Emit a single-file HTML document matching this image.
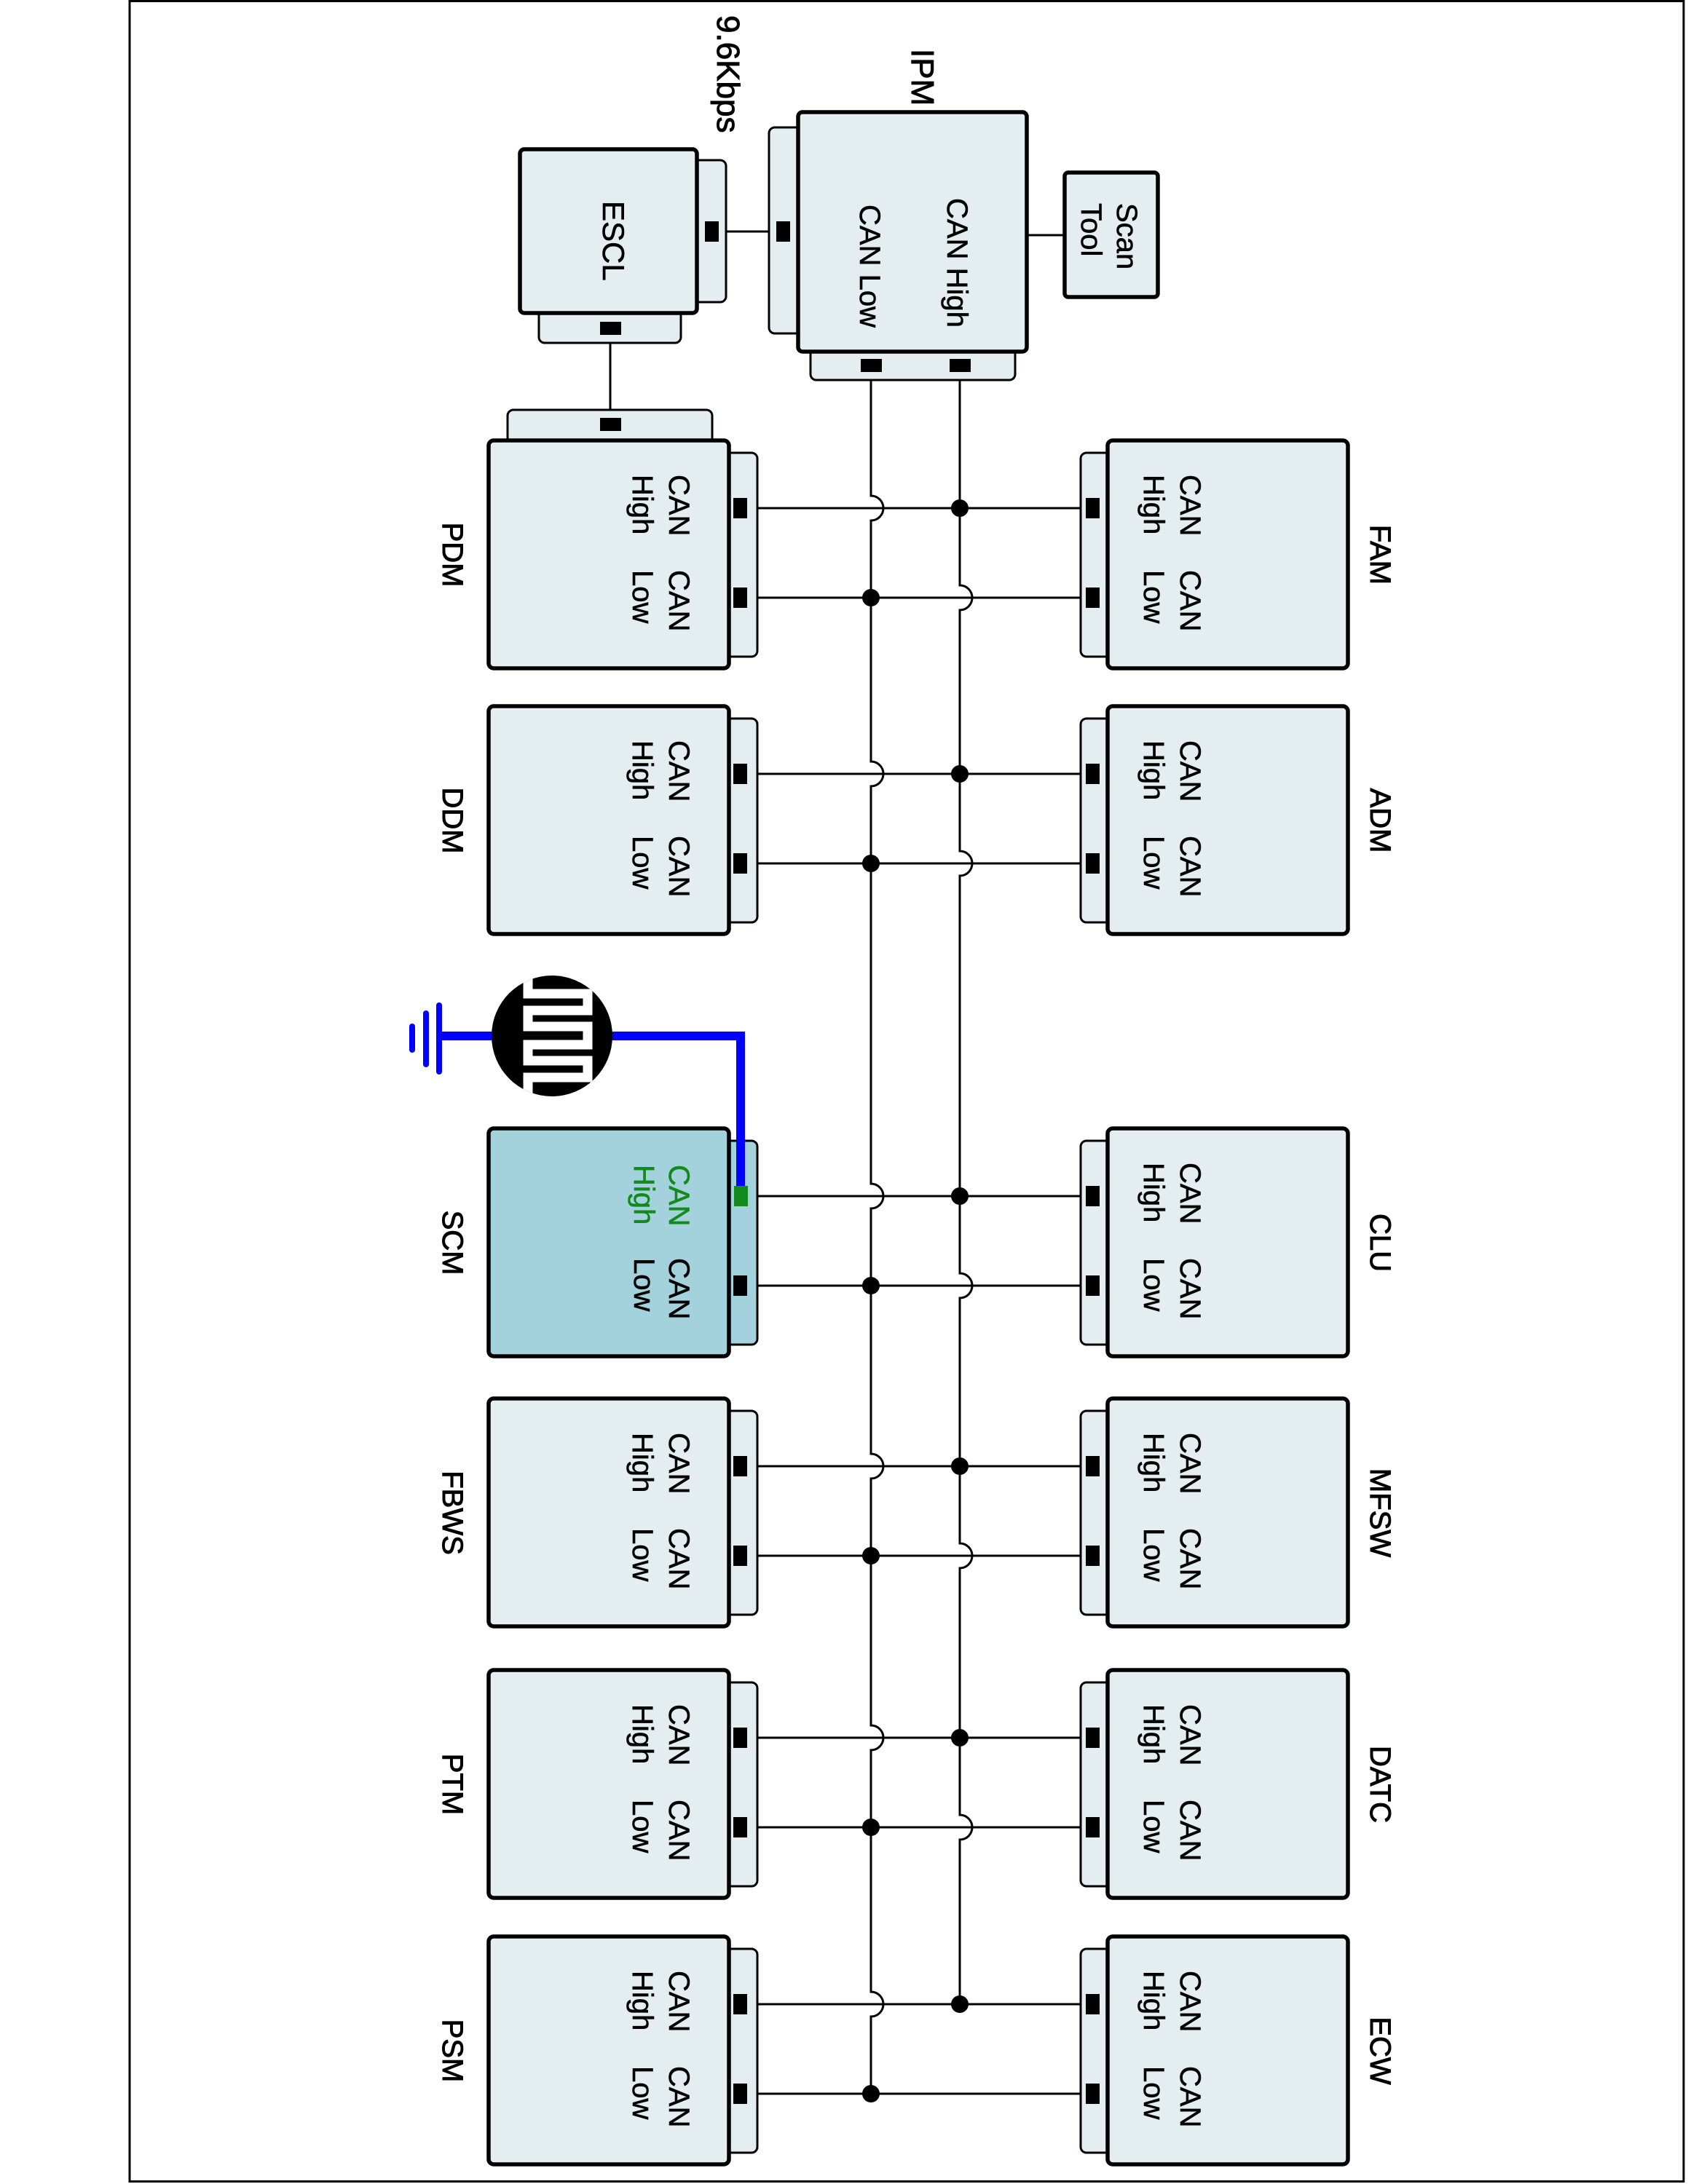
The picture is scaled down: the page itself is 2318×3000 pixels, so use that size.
<!DOCTYPE html>
<html><head><meta charset="utf-8"><style>
html,body{margin:0;padding:0;background:#fff}
svg{display:block}
text{font-family:"Liberation Sans",Arial,sans-serif;font-size:40px;fill:#000;stroke:#000;stroke-width:0.6}
.b{stroke-width:1}
.box{fill:#e4eef0;stroke:#000;stroke-width:5.5}
.tab{fill:#e4eef0;stroke:#000;stroke-width:3}
.scm .box,.scm .tab{fill:#a4d2dc}
.w{stroke:#000;stroke-width:3;fill:none}
.g{fill:#138a1e;stroke:#138a1e}
</style></head><body>
<svg width="2318" height="3000" viewBox="0 0 2318 3000" xmlns="http://www.w3.org/2000/svg">
<rect x="178" y="1.5" width="2134" height="2995" fill="none" stroke="#000" stroke-width="3"/>

<path class="w" d="M1196 510 V681 A17 17 0 0 1 1196 715 V1046 A17 17 0 0 1 1196 1080 V1626 A17 17 0 0 1 1196 1660 V1997 A17 17 0 0 1 1196 2031 V2370 A17 17 0 0 1 1196 2404 V2736 A17 17 0 0 1 1196 2770 V2876"/>
<path class="w" d="M1318 510 V804 A17 17 0 0 1 1318 838 V1169 A17 17 0 0 1 1318 1203 V1749 A17 17 0 0 1 1318 1783 V2120 A17 17 0 0 1 1318 2154 V2493 A17 17 0 0 1 1318 2527 V2753"/>
<g class="w">
<line x1="1025" y1="698" x2="1492" y2="698"/><line x1="1025" y1="821" x2="1492" y2="821"/>
<line x1="1025" y1="1063" x2="1492" y2="1063"/><line x1="1025" y1="1186" x2="1492" y2="1186"/>
<line x1="1025" y1="1643" x2="1492" y2="1643"/><line x1="1025" y1="1766" x2="1492" y2="1766"/>
<line x1="1025" y1="2014" x2="1492" y2="2014"/><line x1="1025" y1="2137" x2="1492" y2="2137"/>
<line x1="1025" y1="2387" x2="1492" y2="2387"/><line x1="1025" y1="2510" x2="1492" y2="2510"/>
<line x1="1025" y1="2753" x2="1492" y2="2753"/><line x1="1025" y1="2876" x2="1492" y2="2876"/>
<line x1="977" y1="318" x2="1075" y2="318"/>
<line x1="838" y1="451" x2="838" y2="583"/>
<line x1="1410" y1="323" x2="1462" y2="323"/>
</g>
<g fill="#000">
<circle cx="1318" cy="698" r="12"/><circle cx="1318" cy="1063" r="12"/><circle cx="1318" cy="1643" r="12"/><circle cx="1318" cy="2014" r="12"/><circle cx="1318" cy="2387" r="12"/><circle cx="1318" cy="2753" r="12"/>
<circle cx="1196" cy="821" r="12"/><circle cx="1196" cy="1186" r="12"/><circle cx="1196" cy="1766" r="12"/><circle cx="1196" cy="2137" r="12"/><circle cx="1196" cy="2510" r="12"/><circle cx="1196" cy="2876" r="12"/>
</g>

<rect class="tab" x="940" y="220" width="57" height="195" rx="8"/>
<rect class="tab" x="740" y="410" width="195" height="61" rx="8"/>
<rect class="box" x="714" y="205" width="243" height="225" rx="6"/>
<rect x="968" y="304" width="19" height="28"/>
<rect x="824" y="442" width="29" height="18"/>
<text transform="translate(828,276) rotate(90)" style="font-size:42px">ESCL</text>
<text class="b" transform="translate(985,21) rotate(90)" style="font-size:44px">9.6Kbps</text>

<rect class="tab" x="1056" y="175" width="60" height="283" rx="8"/>
<rect class="tab" x="1113" y="460" width="281" height="62" rx="8"/>
<rect class="box" x="1096" y="154" width="314" height="329" rx="6"/>
<rect x="1066" y="304" width="19" height="28"/>
<rect x="1182" y="493" width="29" height="18"/>
<rect x="1304" y="493" width="29" height="18"/>
<text transform="translate(1301,272) rotate(90)">CAN High</text>
<text transform="translate(1181,281) rotate(90)">CAN Low</text>
<text class="b" transform="translate(1252,67) rotate(90)" style="font-size:44px">IPM</text>

<rect class="box" x="1462" y="237" width="128" height="171" rx="5"/>
<text transform="translate(1534,279) rotate(90)">Scan</text>
<text transform="translate(1485,279) rotate(90)">Tool</text>

<rect class="tab" x="697" y="563" width="281" height="60" rx="8"/>
<rect x="824" y="574" width="29" height="18"/>

<g transform="translate(671,605)">
<rect class="tab" x="310" y="17" width="59" height="280" rx="8"/><rect class="box" x="0" y="0" width="330" height="313" rx="7"/>
<rect x="336" y="79" width="19" height="28"/><rect x="336" y="202" width="19" height="28"/>
<text transform="translate(248,47) rotate(90)">CAN</text><text transform="translate(198,47) rotate(90)">High</text>
<text transform="translate(248,178) rotate(90)">CAN</text><text transform="translate(198,178) rotate(90)">Low</text>
<text class="b" text-anchor="middle" transform="translate(-63,157) rotate(90)">PDM</text>
</g>
<g transform="translate(671,970)">
<rect class="tab" x="310" y="17" width="59" height="280" rx="8"/><rect class="box" x="0" y="0" width="330" height="313" rx="7"/>
<rect x="336" y="79" width="19" height="28"/><rect x="336" y="202" width="19" height="28"/>
<text transform="translate(248,47) rotate(90)">CAN</text><text transform="translate(198,47) rotate(90)">High</text>
<text transform="translate(248,178) rotate(90)">CAN</text><text transform="translate(198,178) rotate(90)">Low</text>
<text class="b" text-anchor="middle" transform="translate(-63,157) rotate(90)">DDM</text>
</g>
<g class="scm" transform="translate(671,1550)">
<rect class="tab" x="310" y="17" width="59" height="280" rx="8"/><rect class="box" x="0" y="0" width="330" height="313" rx="7"/>
<rect x="336" y="202" width="19" height="28"/>
<text class="g" transform="translate(248,50) rotate(90)">CAN</text><text class="g" transform="translate(200,50) rotate(90)">High</text>
<text transform="translate(248,178) rotate(90)">CAN</text><text transform="translate(200,178) rotate(90)">Low</text>
<text class="b" text-anchor="middle" transform="translate(-63,157) rotate(90)">SCM</text>
</g>
<g transform="translate(671,1921)">
<rect class="tab" x="310" y="17" width="59" height="280" rx="8"/><rect class="box" x="0" y="0" width="330" height="313" rx="7"/>
<rect x="336" y="79" width="19" height="28"/><rect x="336" y="202" width="19" height="28"/>
<text transform="translate(248,47) rotate(90)">CAN</text><text transform="translate(198,47) rotate(90)">High</text>
<text transform="translate(248,178) rotate(90)">CAN</text><text transform="translate(198,178) rotate(90)">Low</text>
<text class="b" text-anchor="middle" transform="translate(-63,157) rotate(90)">FBWS</text>
</g>
<g transform="translate(671,2294)">
<rect class="tab" x="310" y="17" width="59" height="280" rx="8"/><rect class="box" x="0" y="0" width="330" height="313" rx="7"/>
<rect x="336" y="79" width="19" height="28"/><rect x="336" y="202" width="19" height="28"/>
<text transform="translate(248,47) rotate(90)">CAN</text><text transform="translate(198,47) rotate(90)">High</text>
<text transform="translate(248,178) rotate(90)">CAN</text><text transform="translate(198,178) rotate(90)">Low</text>
<text class="b" text-anchor="middle" transform="translate(-63,157) rotate(90)">PTM</text>
</g>
<g transform="translate(671,2660)">
<rect class="tab" x="310" y="17" width="59" height="280" rx="8"/><rect class="box" x="0" y="0" width="330" height="313" rx="7"/>
<rect x="336" y="79" width="19" height="28"/><rect x="336" y="202" width="19" height="28"/>
<text transform="translate(248,47) rotate(90)">CAN</text><text transform="translate(198,47) rotate(90)">High</text>
<text transform="translate(248,178) rotate(90)">CAN</text><text transform="translate(198,178) rotate(90)">Low</text>
<text class="b" text-anchor="middle" transform="translate(-63,157) rotate(90)">PSM</text>
</g>

<g transform="translate(1521,605)">
<rect class="tab" x="-37" y="17" width="59" height="280" rx="8"/><rect class="box" x="0" y="0" width="330" height="313" rx="7"/>
<rect x="-30" y="79" width="19" height="28"/><rect x="-30" y="202" width="19" height="28"/>
<text transform="translate(100,47) rotate(90)">CAN</text><text transform="translate(50,47) rotate(90)">High</text>
<text transform="translate(100,178) rotate(90)">CAN</text><text transform="translate(50,178) rotate(90)">Low</text>
<text class="b" text-anchor="middle" transform="translate(361,157) rotate(90)">FAM</text>
</g>
<g transform="translate(1521,970)">
<rect class="tab" x="-37" y="17" width="59" height="280" rx="8"/><rect class="box" x="0" y="0" width="330" height="313" rx="7"/>
<rect x="-30" y="79" width="19" height="28"/><rect x="-30" y="202" width="19" height="28"/>
<text transform="translate(100,47) rotate(90)">CAN</text><text transform="translate(50,47) rotate(90)">High</text>
<text transform="translate(100,178) rotate(90)">CAN</text><text transform="translate(50,178) rotate(90)">Low</text>
<text class="b" text-anchor="middle" transform="translate(361,157) rotate(90)">ADM</text>
</g>
<g transform="translate(1521,1550)">
<rect class="tab" x="-37" y="17" width="59" height="280" rx="8"/><rect class="box" x="0" y="0" width="330" height="313" rx="7"/>
<rect x="-30" y="79" width="19" height="28"/><rect x="-30" y="202" width="19" height="28"/>
<text transform="translate(100,47) rotate(90)">CAN</text><text transform="translate(50,47) rotate(90)">High</text>
<text transform="translate(100,178) rotate(90)">CAN</text><text transform="translate(50,178) rotate(90)">Low</text>
<text class="b" text-anchor="middle" transform="translate(361,157) rotate(90)">CLU</text>
</g>
<g transform="translate(1521,1921)">
<rect class="tab" x="-37" y="17" width="59" height="280" rx="8"/><rect class="box" x="0" y="0" width="330" height="313" rx="7"/>
<rect x="-30" y="79" width="19" height="28"/><rect x="-30" y="202" width="19" height="28"/>
<text transform="translate(100,47) rotate(90)">CAN</text><text transform="translate(50,47) rotate(90)">High</text>
<text transform="translate(100,178) rotate(90)">CAN</text><text transform="translate(50,178) rotate(90)">Low</text>
<text class="b" text-anchor="middle" transform="translate(361,157) rotate(90)">MFSW</text>
</g>
<g transform="translate(1521,2294)">
<rect class="tab" x="-37" y="17" width="59" height="280" rx="8"/><rect class="box" x="0" y="0" width="330" height="313" rx="7"/>
<rect x="-30" y="79" width="19" height="28"/><rect x="-30" y="202" width="19" height="28"/>
<text transform="translate(100,47) rotate(90)">CAN</text><text transform="translate(50,47) rotate(90)">High</text>
<text transform="translate(100,178) rotate(90)">CAN</text><text transform="translate(50,178) rotate(90)">Low</text>
<text class="b" text-anchor="middle" transform="translate(361,157) rotate(90)">DATC</text>
</g>
<g transform="translate(1521,2660)">
<rect class="tab" x="-37" y="17" width="59" height="280" rx="8"/><rect class="box" x="0" y="0" width="330" height="313" rx="7"/>
<rect x="-30" y="79" width="19" height="28"/><rect x="-30" y="202" width="19" height="28"/>
<text transform="translate(100,47) rotate(90)">CAN</text><text transform="translate(50,47) rotate(90)">High</text>
<text transform="translate(100,178) rotate(90)">CAN</text><text transform="translate(50,178) rotate(90)">Low</text>
<text class="b" text-anchor="middle" transform="translate(361,157) rotate(90)">ECW</text>
</g>

<path d="M1017 1632 V1423 H603" fill="none" stroke="#0000ff" stroke-width="12"/>
<rect x="1008" y="1629" width="19" height="28" fill="#138a1e"/>
<g stroke="#0000ff" stroke-width="8" stroke-linecap="round">
<line x1="603" y1="1381" x2="603" y2="1472"/>
<line x1="585" y1="1392" x2="585" y2="1462"/>
<line x1="566" y1="1410" x2="566" y2="1442"/>
</g>
<defs><clipPath id="cc"><circle cx="758" cy="1423" r="83"/></clipPath></defs>
<circle cx="758" cy="1423" r="83" fill="#000"/>
<polyline clip-path="url(#cc)" points="725,1340 725,1365 807,1365 807,1388 725,1388 725,1410 807,1410 807,1435 725,1435 725,1457 807,1457 807,1480 725,1480 725,1510" fill="none" stroke="#fff" stroke-width="13"/>
</svg>
</body></html>
